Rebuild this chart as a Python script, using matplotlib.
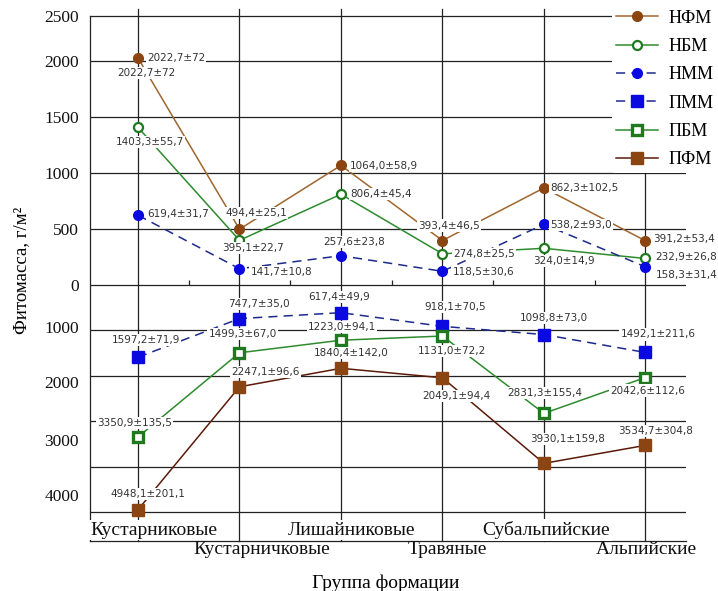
import numpy as np
import matplotlib
matplotlib.use('Agg')
import matplotlib.pyplot as plt

plt.rcParams['font.family'] = ['Liberation Serif', 'DejaVu Serif']

categories = ['Кустарниковые', 'Кустарничковые', 'Лишайниковые',
              'Травяные', 'Субальпийские', 'Альпийские']

# надземная фитомасса (вверх от нуля), г/м2
nfm = [2022.7, 494.4, 1064.0, 393.4, 862.3, 391.2]
nfm_err = [72, 25.1, 58.9, 46.5, 102.5, 53.4]
nbm = [1403.3, 395.1, 806.4, 274.8, 324.0, 232.9]
nbm_err = [55.7, 22.7, 45.4, 25.5, 14.9, 26.8]
nmm = [619.4, 141.7, 257.6, 118.5, 538.2, 158.3]
nmm_err = [31.7, 10.8, 23.8, 30.6, 93.0, 31.4]

# подземная фитомасса (вниз от нуля), г/м2
pmm = [1597.2, 747.7, 617.4, 918.1, 1098.8, 1492.1]
pmm_err = [71.9, 35.0, 49.9, 70.5, 73.0, 211.6]
pbm = [3350.9, 1499.3, 1223.0, 1131.0, 2831.3, 2042.6]
pbm_err = [135.5, 67.0, 94.1, 72.2, 155.4, 112.6]
pfm = [4948.1, 2247.1, 1840.4, 2049.1, 3930.1, 3534.7]
pfm_err = [201.1, 96.6, 142.0, 94.4, 159.8, 304.8]

K = 0.406  # underground part of the axis is squeezed


def fwd(y):
    y = np.asarray(y, dtype=float)
    return np.where(y >= 0, y, y * K)


def inv(y):
    y = np.asarray(y, dtype=float)
    return np.where(y >= 0, y, y / K)


def fmt(v):
    if isinstance(v, int):
        return str(v)
    return f"{v:.1f}".replace('.', ',')


fig = plt.figure(figsize=(7.18, 5.91), dpi=100)
ax = fig.add_axes([90 / 718, 50 / 591, 596 / 718, 525.3 / 591])
ax.set_yscale('function', functions=(fwd, inv))
x = np.arange(len(categories))
ax.set_xlim(-0.473, 5.40)
ax.set_ylim(-5637, 2400)

gc = '#222222'
for v in [0, 500, 1000, 1500, 2000]:
    ax.axhline(v, color=gc, lw=0.9, zorder=1)
for v in [1000, 2000, 3000, 4000, 5000]:
    ax.axhline(-v, color=gc, lw=0.9, zorder=1)
for xi in x:
    ax.axvline(xi, ymin=0, ymax=1.012, clip_on=False, color=gc, lw=0.9, zorder=1)
ax.vlines(x[:-1] + 0.5, 0, 40, color=gc, lw=0.9, zorder=1)

for s in ['top', 'left', 'bottom']:
    ax.spines[s].set_color(gc)
    ax.spines[s].set_linewidth(0.9)
ax.spines['right'].set_visible(False)
ax.set_xticks([])

dash = (0, (6, 4))
series = [
    ('НФМ', nfm, nfm_err, 1, dict(color='#a0662e', ls='-', marker='o', mfc='#8b4513', mec='#8b4513', ms=7)),
    ('НБМ', nbm, nbm_err, 1, dict(color='#2e8b2e', ls='-', marker='o', mfc='white', mec='#1f7a1f', ms=6.5, mew=1.6)),
    ('НММ', nmm, nmm_err, 1, dict(color='#1c2a8c', ls=dash, marker='o', mfc='#0a0ae0', mec='#0a0ae0', ms=7)),
    ('ПММ', pmm, pmm_err, -1, dict(color='#1c2a8c', ls=dash, marker='s', mfc='#0a0ae0', mec='#0a0ae0', ms=8.5)),
    ('ПБМ', pbm, pbm_err, -1, dict(color='#2e8b2e', ls='-', marker='s', mfc='white', mec='#1f7a1f', ms=7.5, mew=2.4)),
    ('ПФМ', pfm, pfm_err, -1, dict(color='#5c1a0a', ls='-', marker='s', mfc='#8b4513', mec='#8b4513', ms=8.5)),
]

# label offsets from the marker, px (dx to the left edge, dy down)
offsets = {
    'НФМ': [(9, 0), (-14, -16), (9, 1), (-24, -15), (6, 0), (8, -2)],
    'НБМ': [(-22, 15), (-17, 8), (9, 0), (11, 0), (-11, 13), (10, -1)],
    'НММ': [(9, -1), (11, 3), (-18, -14), (10, 1), (6, 1), (10, 8)],
    'ПММ': [(-26, -17), (-11, -15), (-33, -16), (-18, -19), (-24, -17), (-25, -18)],
    'ПБМ': [(-41, -14), (-31, -19), (-33, -13), (-25, 15), (-37, -20), (-35, 13)],
    'ПФМ': [(-28, -16), (-8, -15), (-27, -15), (-20, 18), (-14, -24), (-27, -14)],
}

box = dict(boxstyle='square,pad=0.1', fc='white', ec='none')
for name, vals, errs, sign, st in series:
    y = sign * np.array(vals)
    ax.plot(x, y, lw=1.1, label=name, zorder=2, **st)
    for i in range(len(x)):
        dx, dy = offsets[name][i]
        ax.annotate(fmt(vals[i]) + '±' + fmt(errs[i]), (x[i], y[i]),
                    xytext=(dx * 0.72, -dy * 0.72), textcoords='offset points',
                    ha='left', va='center', fontsize=7.5, color='#333333',
                    family='DejaVu Sans', bbox=box, zorder=3)
# the first value is signed twice on the original
ax.annotate(fmt(nfm[0]) + '±' + fmt(nfm_err[0]), (x[0], nfm[0]),
            xytext=(-21 * 0.72, -15 * 0.72), textcoords='offset points',
            ha='left', va='center', fontsize=7.5, color='#333333',
            family='DejaVu Sans', bbox=box, zorder=3)

# category names in two rows
row_y = [0.0209, -0.0171, 0.0209, -0.0171, 0.0209, -0.0171]
cat_dx = [-47.3, 22, 11, 5, 2, 1]
cat_ha = ['left', 'center', 'center', 'center', 'center', 'center']
for i, cat in enumerate(categories):
    ax.annotate(cat, (x[i], row_y[i]), xycoords=ax.get_xaxis_transform(),
                xytext=(cat_dx[i] * 0.72, 0), textcoords='offset points',
                ha=cat_ha[i], va='center', fontsize=14, color='#111111',
                bbox=box if row_y[i] > 0 else None, zorder=3)

ax.set_yticks([-4630, -3420, -2140, -930, 0, 500, 1000, 1500, 2000, 2400])
ax.set_yticklabels(['4000', '3000', '2000', '1000', '0', '500', '1000', '1500', '2000', '2500'])
ax.yaxis.set_minor_locator(matplotlib.ticker.NullLocator())
ax.tick_params(axis='y', length=0, pad=8, labelsize=12.5, labelcolor='#111111')

leg = ax.legend(loc='upper right', bbox_to_anchor=(1.0, 1 - 5 / 591), bbox_transform=fig.transFigure,
                frameon=True, facecolor='white', edgecolor='none', framealpha=1,
                fontsize=13, handlelength=2.3, handletextpad=0.6, labelspacing=0.63,
                borderpad=0.25, borderaxespad=0)
leg.set_zorder(5)

fig.text(386 / 718, 1 - 583 / 591, 'Группа формации', ha='center', va='center', fontsize=14)
fig.text(22 / 718, 1 - 270 / 591, 'Фитомасса, г/м²', rotation=90, ha='center', va='center', fontsize=13.5)

fig.savefig('out.png', dpi=100)
